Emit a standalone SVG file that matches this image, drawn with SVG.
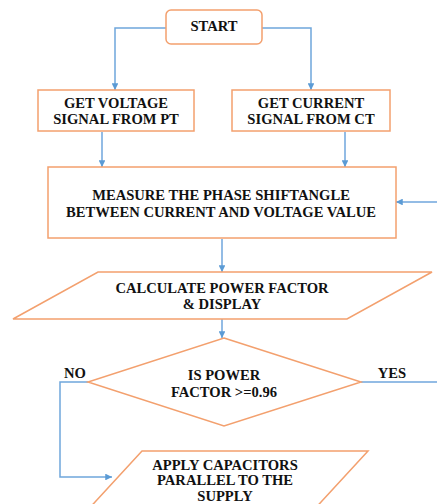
<svg xmlns="http://www.w3.org/2000/svg" width="437" height="504" viewBox="0 0 437 504">
<style>
.n{fill:#fff;stroke:#F3A06E;stroke-width:1.5}
.c{fill:none;stroke:#6FA6DC;stroke-width:1.5}
text{font-family:"Liberation Serif","Times New Roman",serif;font-weight:bold;font-size:14.6px;fill:#111;text-anchor:middle}
</style>
<defs>
<marker id="ah" viewBox="0 0 10 10" refX="10" refY="5" markerWidth="4.5" markerHeight="4.5" orient="auto" markerUnits="strokeWidth">
<path d="M0,0L10,5L0,10z" fill="#5B9BD5"/>
</marker>
</defs>
<rect width="437" height="504" fill="#fff"/>
<g id="connectors">
<path class="c" d="M166,28H115V90" marker-end="url(#ah)"/>
<path class="c" d="M262,28H311V90" marker-end="url(#ah)"/>
<path class="c" d="M102,132V167" marker-end="url(#ah)"/>
<path class="c" d="M345,132V167" marker-end="url(#ah)"/>
<path class="c" d="M437,202H396" marker-end="url(#ah)"/>
<path class="c" d="M222,239V272" marker-end="url(#ah)"/>
<path class="c" d="M222,319V338" marker-end="url(#ah)"/>
<path class="c" d="M88,382H60V477H112" marker-end="url(#ah)"/>
<path class="c" d="M361,382H437"/>
</g>
<g id="start">
<rect class="n" x="166" y="10" width="96" height="34" rx="5"/>
<text x="214" y="31">START</text>
</g>
<g id="get-voltage">
<rect class="n" x="38" y="90" width="156" height="41"/>
<text x="116" y="108">GET VOLTAGE</text>
<text x="116" y="124">SIGNAL FROM PT</text>
</g>
<g id="get-current">
<rect class="n" x="232" y="90" width="158" height="41"/>
<text x="311" y="108">GET CURRENT</text>
<text x="311" y="124">SIGNAL FROM CT</text>
</g>
<g id="measure">
<rect class="n" x="48" y="167" width="348" height="71"/>
<text x="221" y="200">MEASURE THE PHASE SHIFTANGLE</text>
<text x="221" y="217">BETWEEN CURRENT AND VOLTAGE VALUE</text>
</g>
<g id="calculate">
<polygon class="n" points="98,272 432,272 347,319 13,319"/>
<text x="222" y="293">CALCULATE POWER FACTOR</text>
<text x="222" y="309">&amp; DISPLAY</text>
</g>
<g id="decision">
<polygon class="n" points="224,338 361,382 224,426 88,382"/>
<text x="224" y="380">IS POWER</text>
<text x="224" y="397">FACTOR &gt;=0.96</text>
</g>
<text x="75" y="378">NO</text>
<text x="392" y="378">YES</text>
<g id="apply">
<polygon class="n" points="142,451 368,451 310,514 84,514"/>
<text x="225" y="470">APPLY CAPACITORS</text>
<text x="225" y="485">PARALLEL TO THE</text>
<text x="225" y="501">SUPPLY</text>
</g>
</svg>
